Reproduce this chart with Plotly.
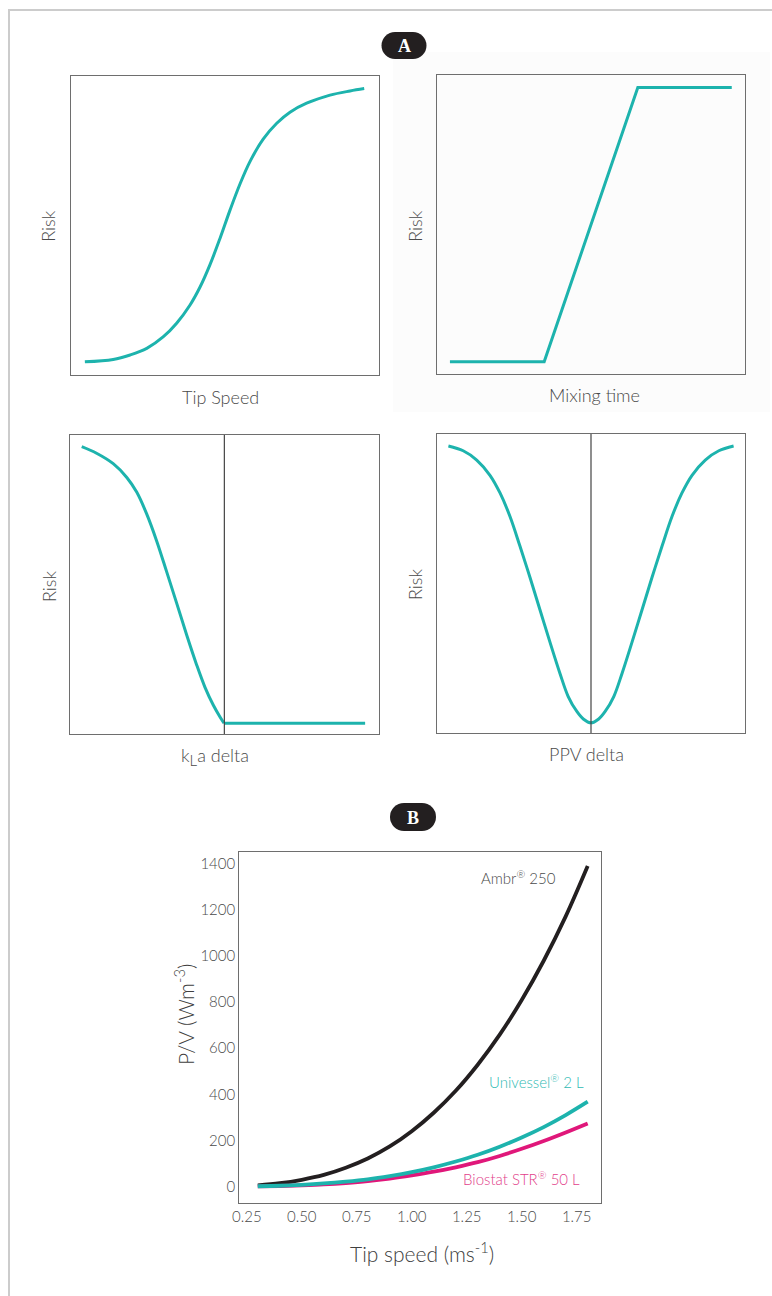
import plotly.graph_objects as go

W, H = 772, 1296

# ---------------- Panel A data (normalised axes, 0..1) ----------------
tip_x = [0.045, 0.137, 0.192, 0.246, 0.300, 0.343, 0.386, 0.419, 0.451, 0.484, 0.516, 0.549,
         0.581, 0.624, 0.668, 0.711, 0.765, 0.841, 0.906, 0.952]
tip_risk = [0.044, 0.052, 0.067, 0.089, 0.128, 0.173, 0.233, 0.294, 0.368, 0.457, 0.550, 0.639,
            0.713, 0.788, 0.841, 0.878, 0.908, 0.935, 0.949, 0.957]

mix_x = [0.042, 0.348, 0.652, 0.957]
mix_risk = [0.041, 0.041, 0.957, 0.957]

kla_x = [0.038, 0.086, 0.140, 0.184, 0.216, 0.248, 0.281, 0.313, 0.346, 0.378, 0.410, 0.437,
         0.464, 0.486, 0.499, 0.956]
kla_risk = [0.961, 0.939, 0.904, 0.858, 0.809, 0.737, 0.645, 0.543, 0.436, 0.331, 0.232, 0.157,
            0.097, 0.057, 0.036, 0.036]

ppv_x = [0.037, 0.085, 0.129, 0.172, 0.205, 0.237, 0.269, 0.302, 0.334, 0.367, 0.399, 0.426,
         0.454, 0.475, 0.500, 0.525, 0.546, 0.574, 0.601, 0.633, 0.666, 0.698, 0.731, 0.763,
         0.795, 0.828, 0.871, 0.915, 0.963]
ppv_risk = [0.960, 0.944, 0.913, 0.862, 0.802, 0.724, 0.626, 0.520, 0.413, 0.303, 0.200, 0.122,
            0.072, 0.047, 0.034, 0.047, 0.072, 0.122, 0.200, 0.303, 0.413, 0.520, 0.626, 0.724,
            0.802, 0.862, 0.913, 0.944, 0.960]

# ---------------- Panel B data ----------------
tip_speed = [0.3, 0.4, 0.5, 0.6, 0.7, 0.8, 0.9, 1.0, 1.1, 1.2, 1.3, 1.4, 1.5, 1.6, 1.7, 1.8]
ambr_250 = [6, 15, 30, 51, 82, 122, 174, 240, 320, 415, 528, 658, 808, 978, 1170, 1388]
univessel_2l = [2, 4, 8, 14, 22, 32, 46, 63, 84, 109, 138, 173, 213, 258, 310, 368]
biostat_50l = [1, 3, 6, 10, 16, 24, 35, 49, 65, 84, 106, 133, 164, 198, 235, 274]

b_xticks = [0.25, 0.50, 0.75, 1.00, 1.25, 1.50, 1.75]
b_yticks = [0, 200, 400, 600, 800, 1000, 1200, 1400]

TEAL = "#1db3ad"
MAGENTA = "#e0177a"
DARK = "#231f20"
GRAY_TXT = "#4a4a4a"
FONT = "Lato"
FW = 300


def px(x):
    return x / W


def py(y):
    return 1 - y / H


fig = go.Figure()

panels = [
    # (axis id, x0, x1, y top, y bottom) in pixels
    ("", 71, 379, 75.7, 375),
    ("2", 437, 745, 74.7, 374),
    ("3", 70, 378.7, 435, 734),
    ("4", 437, 745, 434, 733),
]

layout_axes = {}
for aid, x0, x1, yt, yb in panels:
    common = dict(showline=True, mirror=True, linecolor="#6e6e6e", linewidth=1.2,
                  showgrid=False, zeroline=False, showticklabels=False, ticks="",
                  range=[0, 1], fixedrange=True, automargin=False)
    layout_axes["xaxis" + aid] = dict(domain=[px(x0), px(x1)], anchor="y" + aid, **common)
    layout_axes["yaxis" + aid] = dict(domain=[py(yb), py(yt)], anchor="x" + aid, **common)


def teal_line(xs, ys, aid, shape="spline"):
    ln = dict(color=TEAL, width=3, shape=shape)
    if shape == "spline":
        ln["smoothing"] = 1.0
    fig.add_trace(go.Scatter(x=xs, y=ys, mode="lines", line=ln,
                             xaxis="x" + aid, yaxis="y" + aid, showlegend=False,
                             hoverinfo="skip"))


teal_line(tip_x, tip_risk, "")
teal_line(mix_x, mix_risk, "2", "linear")
k = kla_risk.index(min(kla_risk))
teal_line(kla_x[:k + 1], kla_risk[:k + 1], "3")
teal_line(kla_x[k:], kla_risk[k:], "3", "linear")
teal_line(ppv_x, ppv_risk, "4")

# Panel B traces
for name, vals, col in [("Ambr® 250", ambr_250, DARK),
                        ("Biostat STR® 50 L", biostat_50l, MAGENTA),
                        ("Univessel® 2 L", univessel_2l, TEAL)]:
    fig.add_trace(go.Scatter(x=tip_speed, y=vals, mode="lines", name=name,
                             line=dict(color=col, width=3.8, shape="spline"),
                             xaxis="x5", yaxis="y5", showlegend=False))

tickfont = dict(family=FONT, size=15, color=GRAY_TXT, weight=FW)
layout_axes["xaxis5"] = dict(domain=[px(239.3), px(601)], anchor="y5", range=[0.216, 1.8605],
                             showline=True, mirror=True, linecolor="#6e6e6e", linewidth=1.2,
                             showgrid=False, zeroline=False, ticks="", tickvals=b_xticks,
                             ticktext=[f"{v:.2f}" for v in b_xticks], automargin=False,
                             tickfont=tickfont, fixedrange=True)
layout_axes["yaxis5"] = dict(domain=[py(1203), py(851.7)], anchor="x5", range=[-70.6, 1450],
                             showline=True, mirror=True, linecolor="#6e6e6e", linewidth=1.2,
                             showgrid=False, zeroline=False, ticks="", tickvals=b_yticks,
                             automargin=False, tickfont=tickfont, fixedrange=True)

# vertical reference lines in lower panels
shapes = []
for aid in ["3", "4"]:
    shapes.append(dict(type="line", xref="x" + aid, yref="y" + aid + " domain", x0=0.5, x1=0.5,
                       y0=0, y1=1, line=dict(color="#444444", width=1.2)))

# outer frame and faint panel background
shapes.append(dict(type="rect", xref="paper", yref="paper", x0=px(9), x1=px(800), y0=py(1330),
                   y1=py(10), line=dict(color="#cccccc", width=2), fillcolor="rgba(0,0,0,0)",
                   layer="below"))
shapes.append(dict(type="rect", xref="paper", yref="paper", x0=px(393), x1=px(770), y0=py(412),
                   y1=py(52), line=dict(width=0), fillcolor="#fcfcfc", layer="below"))


# badges (rounded pills)
def badge(cx, cy, w, h):
    r = h / 2
    out = [dict(type="rect", xref="paper", yref="paper", x0=px(cx - w / 2 + r), x1=px(cx + w / 2 - r),
                y0=py(cy + r), y1=py(cy - r), line=dict(width=0), fillcolor=DARK)]
    for ccx in (cx - w / 2 + r, cx + w / 2 - r):
        out.append(dict(type="circle", xref="paper", yref="paper", x0=px(ccx - r), x1=px(ccx + r),
                        y0=py(cy + r), y1=py(cy - r), line=dict(width=0), fillcolor=DARK))
    return out


shapes += badge(404, 45.5, 45, 27)
shapes += badge(413, 817, 46, 28)

annotations = []


def text(x, y, s, size=18, color=GRAY_TXT, angle=0, family=FONT, weight=FW):
    annotations.append(dict(x=px(x), y=py(y), xref="paper", yref="paper", text=s, showarrow=False,
                            textangle=angle, xanchor="center", yanchor="middle",
                            font=dict(family=family, size=size, color=color, weight=weight)))


text(404, 46, "A", size=18, color="white", family="Liberation Serif", weight=700)
text(413, 818, "B", size=18, color="white", family="Liberation Serif", weight=700)

text(48, 226.7, "Risk", angle=-90)
text(415, 226.7, "Risk", angle=-90)
text(48.3, 586.7, "Risk", angle=-90)
text(415, 585, "Risk", angle=-90)
text(220, 396.7, "Tip Speed")
text(594, 395, "Mixing time")
text(215, 756.7, "k<sub><span style='font-size:15px'>L</span></sub>a delta")
text(586.7, 754.3, "PPV delta")

text(184, 1015, "P/V (Wm<sup>-3</sup>)", size=21, angle=-90, color="#404040")
text(421.7, 1251.7, "Tip speed (ms<sup>-1</sup>)", size=21, color="#404040")

# series labels (data coords)
for s, x, y, col in [("Ambr<sup>®</sup> 250", 1.665, 1340, GRAY_TXT),
                     ("Univessel<sup>®</sup> 2 L", 1.793, 455, "#2fbab4"),
                     ("Biostat STR<sup>®</sup> 50 L", 1.773, 36, "#e2408a")]:
    annotations.append(dict(x=x, y=y, xref="x5", yref="y5", text=s, showarrow=False,
                            xanchor="right", yanchor="middle",
                            font=dict(family=FONT, size=15, color=col, weight=FW)))

fig.update_layout(template="none", width=W, height=H, autosize=False,
                  margin=dict(l=0, r=0, t=0, b=0, pad=0),
                  paper_bgcolor="white", plot_bgcolor="rgba(0,0,0,0)",
                  shapes=shapes, annotations=annotations, **layout_axes)

fig.write_html("out.html", post_script="document.body.style.margin='0';",
               config={"displayModeBar": False})
